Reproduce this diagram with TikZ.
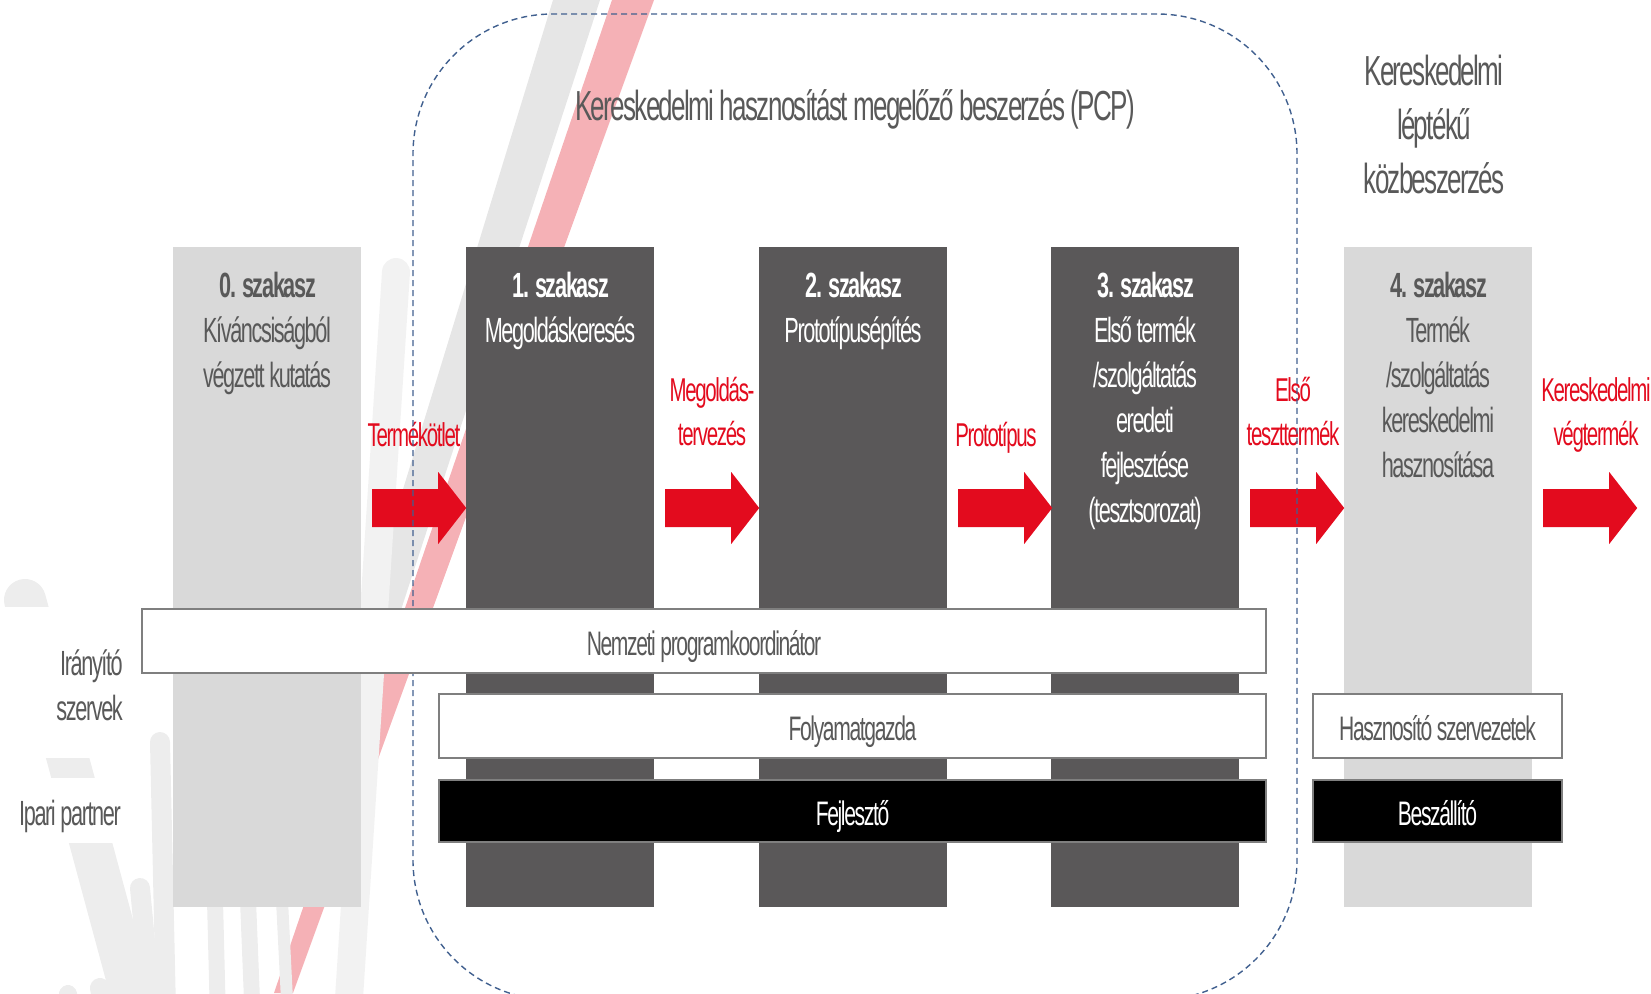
\documentclass[tikz,border=0pt]{standalone}
\usepackage{fontspec}
\setmainfont[FakeStretch=0.62,LetterSpace=-4]{Liberation Sans}
\definecolor{darkbox}{HTML}{5A5859}
\definecolor{lightbox}{HTML}{D9D9D9}
\definecolor{txtgray}{HTML}{595959}
\definecolor{arrred}{HTML}{E30B1E}
\definecolor{dashblue}{HTML}{41608F}
\definecolor{bandline}{HTML}{7F7F7F}
\definecolor{wmgray}{HTML}{E6E6E6}
\definecolor{wmlight}{HTML}{EDEDED}
\definecolor{wmred}{HTML}{F5B1B6}
\begin{document}
\begin{tikzpicture}[x=1pt,y=-1pt,
  phase/.style={rectangle, inner sep=0pt, minimum width=188pt, minimum height=660pt, draw=none},
  darkphase/.style={phase, fill=darkbox},
  lightphase/.style={phase, fill=lightbox},
  phasetext/.style={anchor=north, align=center, inner sep=0pt, font=\fontsize{35}{45}\selectfont},
  arrowlabel/.style={anchor=north, align=center, inner sep=0pt, text=arrred, font=\fontsize{33}{44}\selectfont},
  band/.style={rectangle, inner sep=0pt, text height=32pt, text depth=4pt, draw=bandline, line width=1.5pt, fill=white, text=txtgray, font=\fontsize{34}{40}\selectfont},
  blackband/.style={band, fill=black, text=white},
  sidelabel/.style={anchor=north east, align=right, inner sep=0pt, text=txtgray, font=\fontsize{35}{45}\selectfont},
  heading/.style={text=txtgray, inner sep=0pt, font=\fontsize{42}{54}\selectfont},
  wmstroke/.style={draw=wmlight, line cap=round},
  blockarrow/.pic={\fill[arrred] (0,-19) -- (66,-19) -- (66,-36) -- (94,0) -- (66,36) -- (66,19) -- (0,19) -- cycle;}
]
\useasboundingbox (0,0) rectangle (1651,993);
\clip (0,0) rectangle (1651,993);

% watermark
\fill[wmgray] (553,0) -- (600,0) -- (352,760) -- (320,760) -- cycle;
\fill[wmred] (612,0) -- (654,0) -- (293,993) -- (274,993) -- cycle;
\draw[wmstroke, draw=wmlight!70!white, line width=28pt] (396,272) -- (345,1060);
\draw[wmstroke, line width=42pt] (25,600) -- (160,1100);
\draw[wmstroke, line width=20pt] (160,742) -- (168,1100);
\draw[wmstroke, line width=20pt] (140,888) -- (160,1100);
\draw[wmstroke, line width=20pt] (100,988) -- (120,1100);
\draw[wmstroke, line width=18pt] (68,994) -- (88,1100);
\draw[wmstroke, line width=16pt] (215,900) -- (220,1100);
\draw[wmstroke, line width=16pt] (248,900) -- (256,1100);
\draw[wmstroke, line width=12pt] (282,900) -- (292,1100);

% phase boxes
\node[lightphase] (b0) at (267,577) {};
\node[darkphase]  (b1) at (560,577) {};
\node[darkphase]  (b2) at (853,577) {};
\node[darkphase]  (b3) at (1145,577) {};
\node[lightphase] (b4) at (1438,577) {};

\node[phasetext, text=txtgray] (t0) at ([yshift=-18.5pt]b0.north) {\strut\textbf{0. szakasz}\\Kíváncsiságból\\végzett kutatás};
\node[phasetext, text=white] (t1) at ([yshift=-18.5pt]b1.north) {\strut\textbf{1. szakasz}\\Megoldáskeresés};
\node[phasetext, text=white] (t2) at ([yshift=-18.5pt]b2.north) {\strut\textbf{2. szakasz}\\Prototípusépítés};
\node[phasetext, text=white] (t3) at ([yshift=-18.5pt]b3.north) {\strut\textbf{3. szakasz}\\Első termék\\/szolgáltatás\\eredeti\\fejlesztése\\(tesztsorozat)};
\node[phasetext, text=txtgray] (t4) at ([yshift=-18.5pt]b4.north) {\strut\textbf{4. szakasz}\\Termék\\/szolgáltatás\\kereskedelmi\\hasznosítása};

% arrows between phases
\pic at ([xshift=11pt,yshift=69pt]b0.east) {blockarrow};
\pic at ([xshift=11pt,yshift=69pt]b1.east) {blockarrow};
\pic at ([xshift=11pt,yshift=69pt]b2.east) {blockarrow};
\pic at ([xshift=11pt,yshift=69pt]b3.east) {blockarrow};
\pic at ([xshift=11pt,yshift=69pt]b4.east) {blockarrow};

\node[arrowlabel] (l1) at (414,415) {\strut Termékötlet};
\node[arrowlabel] (l2) at (712,370) {\strut Megoldás-\\tervezés};
\node[arrowlabel] (l3) at (996,415) {\strut Prototípus};
\node[arrowlabel] (l4) at (1293,370) {\strut Első\\teszttermék};
\node[arrowlabel] (l5) at (1596,370) {\strut Kereskedelmi\\végtermék};

% headings
\node[heading, anchor=base] (title) at (855,120) {Kereskedelmi hasznosítást megelőző beszerzés (PCP)};
\node[heading, anchor=north, align=center] (kozb) at (1434,47) {\strut Kereskedelmi\\léptékű\\közbeszerzés};

% PCP frame
\node[draw=dashblue, line width=1.4pt, dash pattern=on 6pt off 4pt, rounded corners=140pt,
      minimum width=884pt, minimum height=986pt, inner sep=0pt] (pcp) at (855,507) {};

% side labels
\fill[white] (0,607) rectangle (142,758);
\fill[white] (0,778) rectangle (133,843);
\node[sidelabel] (irany) at (123,643.5) {\strut Irányító\\szervek};
\node[sidelabel] (ipari) at (121,793.5) {\strut Ipari partner};

% bands
\node[band, minimum width=1124pt, minimum height=64pt] (nemzeti) at (704,641) {Nemzeti programkoordinátor};
\node[band, minimum width=827pt, minimum height=64pt] (folyamat) at (852.5,726) {Folyamatgazda};
\node[blackband, minimum width=827pt, minimum height=62pt] (fejleszto) at (852.5,811) {Fejlesztő};
\node[band, minimum width=249pt, minimum height=64pt] (hasznosito) at (1437.5,726) {Hasznosító szervezetek};
\node[blackband, minimum width=249pt, minimum height=62pt] (beszallito) at (1437.5,811) {Beszállító};
\end{tikzpicture}
\end{document}
